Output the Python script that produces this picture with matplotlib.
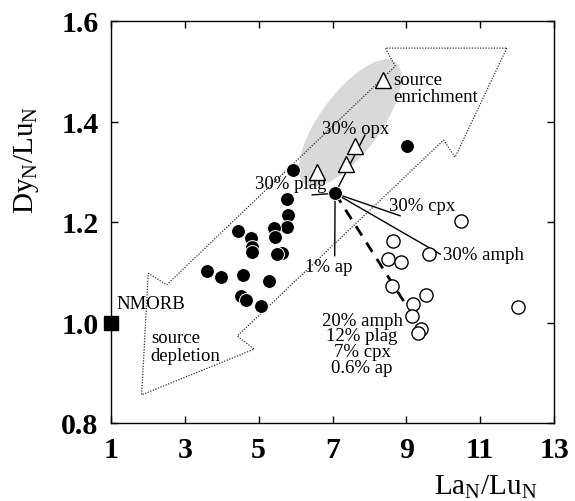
import numpy as np
import matplotlib
matplotlib.use("Agg")
import matplotlib.pyplot as plt
from matplotlib.patches import Polygon

plt.rcParams['font.family'] = ['Liberation Serif', 'DejaVu Serif']
plt.rcParams['mathtext.fontset'] = 'custom'
plt.rcParams['mathtext.rm'] = 'Liberation Serif'
plt.rcParams['mathtext.it'] = 'Liberation Serif:italic'
plt.rcParams['mathtext.bf'] = 'Liberation Serif:bold'

# ---- data ----
filled_x = [5.92, 5.76, 5.80, 5.76, 5.42, 5.45, 4.45, 4.79, 4.81, 4.83, 5.63, 5.51,
            3.59, 3.97, 4.57, 5.29, 4.52, 4.66, 5.05, 7.07, 9.03]
filled_y = [1.304, 1.246, 1.214, 1.191, 1.188, 1.170, 1.183, 1.168, 1.150, 1.140, 1.138, 1.136,
            1.102, 1.090, 1.095, 1.083, 1.053, 1.045, 1.033, 1.257, 1.351]
open_x = [10.47, 8.65, 9.62, 8.49, 8.85, 8.61, 9.53, 9.19, 12.03, 9.16, 9.40, 9.31]
open_y = [1.201, 1.163, 1.136, 1.126, 1.120, 1.073, 1.055, 1.037, 1.030, 1.012, 0.987, 0.980]
tri_x = [8.36, 7.62, 7.37, 6.57]
tri_y = [1.483, 1.351, 1.315, 1.300]
nmorb_x = [1.0]
nmorb_y = [1.0]

source_pt = (7.07, 1.257)
model_ends = {
    'plag': (6.45, 1.254),
    'opx': (7.88, 1.373),
    'ap': (7.06, 1.133),
    'cpx': (8.83, 1.2125),
    'amph': (9.92, 1.136),
}
mix_end = (9.01, 1.033)

arrow_x = [11.72, 10.32, 10.01, 4.42, 4.88, 1.83, 2.01, 2.51, 8.70, 8.43]
arrow_y = [1.546, 1.329, 1.363, 0.973, 0.947, 0.856, 1.098, 1.075, 1.510, 1.546]

# grey field: centre, half major-axis vector, half minor-axis vector (data units)
ell_center = (7.477, 1.397)
ell_major = (1.225, 0.1216)
ell_minor = (0.654, -0.0355)

x_ticks = [1, 3, 5, 7, 9, 11, 13]
y_ticks = [0.8, 1.0, 1.2, 1.4, 1.6]
y_ticklabels = ['0.8', '1.0', '1.2', '1.4', '1.6']

fig = plt.figure(figsize=(5.75, 5.02), dpi=100)
ax = fig.add_axes([111/575, 1-424/502, (554-111)/575, (424-22)/502])
ax.set_xlim(1, 13)
ax.set_ylim(0.8, 1.6)

t = np.linspace(0, 2*np.pi, 200)
ex = ell_center[0] + ell_major[0]*np.cos(t) + ell_minor[0]*np.sin(t)
ey = ell_center[1] + ell_major[1]*np.cos(t) + ell_minor[1]*np.sin(t)
ax.fill(ex, ey, color='#d9d9d9', lw=0, zorder=1)

poly = Polygon(np.column_stack([arrow_x, arrow_y]), closed=True, fill=False,
               ec='#333333', lw=0.9, ls=(0, (1, 1.2)), zorder=2)
ax.add_patch(poly)

for k, (ex_, ey_) in model_ends.items():
    ax.plot([source_pt[0], ex_], [source_pt[1], ey_], color='black', lw=1.0, zorder=3)
ax.plot([source_pt[0], mix_end[0]], [source_pt[1], mix_end[1]], color='black', lw=2.0,
        ls=(0, (4, 3)), zorder=3)

ax.plot(filled_x, filled_y, 'o', ms=10, mfc='black', mec='white', mew=0.7, zorder=5, ls='none')
ax.plot(open_x, open_y, 'o', ms=9.5, mfc='white', mec='black', mew=1.0, zorder=5, ls='none')
ax.plot(tri_x, tri_y, '^', ms=11, mfc='white', mec='black', mew=1.0, zorder=6, ls='none')
ax.plot(nmorb_x, nmorb_y, 's', ms=10, mfc='black', mec='black', zorder=7, ls='none', clip_on=False)

fs = 13.5
ax.text(1.16, 1.037, 'NMORB', fontsize=fs, ha='left', va='center', zorder=8)
ax.text(2.08, 0.952, 'source\ndepletion', fontsize=fs, ha='left', va='center', linespacing=1.05, zorder=8)
ax.text(8.64, 1.467, 'source\nenrichment', fontsize=fs, ha='left', va='center', linespacing=1.05, zorder=8)
ax.text(7.63, 1.387, '30% opx', fontsize=fs, ha='center', va='center', zorder=8)
ax.text(5.88, 1.276, '30% plag', fontsize=fs, ha='center', va='center', zorder=8)
ax.text(9.43, 1.232, '30% cpx', fontsize=fs, ha='center', va='center', zorder=8)
ax.text(10.0, 1.136, '30% amph', fontsize=fs, ha='left', va='center', zorder=8)
ax.text(6.91, 1.112, '1% ap', fontsize=fs, ha='center', va='center', zorder=8)
ax.text(7.80, 0.958, '20% amph\n12% plag\n7% cpx\n0.6% ap', fontsize=fs, ha='center',
        va='center', multialignment='center', linespacing=0.9, zorder=8)

ax.set_xticks(x_ticks)
ax.set_xticklabels([str(v) for v in x_ticks])
ax.set_yticks(y_ticks)
ax.set_yticklabels(y_ticklabels)
ax.tick_params(direction='in', length=5, width=1, top=True, right=True,
               labelsize=21.5, pad=9)
for lab in ax.get_xticklabels() + ax.get_yticklabels():
    lab.set_fontweight('bold')
for s in ax.spines.values():
    s.set_linewidth(1.0)

fig.text(486/575, 1-487/502, r'$\mathrm{La_N/Lu_N}$', fontsize=21, ha='center', va='center')
fig.text(27/575, 1-160/502, r'$\mathrm{Dy_N/Lu_N}$', fontsize=21, ha='center', va='center', rotation=90)

fig.savefig('out.png', dpi=100)
